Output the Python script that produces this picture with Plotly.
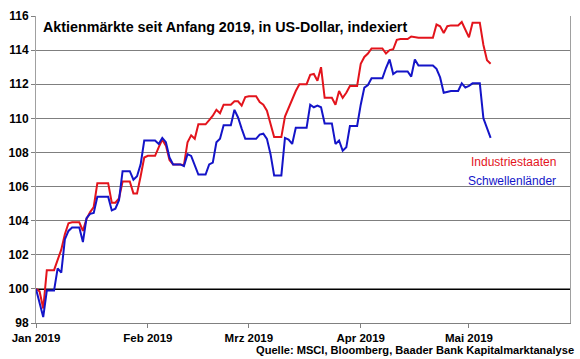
import pandas as pd
import plotly.graph_objects as go

# Daily (calendar) index values, base 100 at 1 Jan 2019
start_date = "2019-01-01"

ind_jan = [100.0, 99.85, 98.85, 101.1, 101.1, 101.1, 101.7, 102.3, 103.2, 103.85,
           103.9, 103.9, 103.9, 103.4, 104.1, 104.5, 104.8, 106.2, 106.2, 106.2,
           106.2, 105.05, 105.05, 105.3, 106.3, 106.3, 106.3, 105.6, 105.6, 106.6,
           107.7]
ind_feb = [107.8, 107.8, 107.8, 108.3, 108.75, 108.4, 107.55, 107.3, 107.3, 107.3,
           107.25, 108.6, 109.0, 108.8, 109.65, 109.65, 109.65, 109.9, 110.15, 110.5,
           110.3, 110.8, 110.8, 110.8, 111.0, 111.0, 110.75, 111.25]
ind_mar = [111.3, 111.3, 111.3, 110.95, 110.8, 110.45, 109.7, 108.9, 108.9, 108.9,
           110.1, 110.6, 111.2, 111.6, 112.0, 112.0, 112.0, 112.55, 112.6, 112.2,
           113.0, 111.2, 111.2, 111.2, 110.8, 111.6, 111.2, 111.5, 111.9, 111.9,
           111.9]
ind_apr = [113.2, 113.6, 113.8, 114.1, 114.1, 114.1, 114.1, 113.8, 114.0, 114.05,
           114.6, 114.65, 114.65, 114.65, 114.8, 114.75, 114.73, 114.73, 114.73, 114.73,
           114.73, 115.5, 115.4, 115.0, 115.4, 115.45, 115.45, 115.45, 115.65, 115.2]
ind_may = [114.75, 115.6, 115.6, 115.6, 114.3, 113.4, 113.2]

em_jan = [100.0, 99.15, 98.35, 99.9, 99.9, 99.9, 101.2, 100.95, 102.9, 103.4,
          103.6, 103.6, 103.6, 102.75, 104.15, 104.4, 104.45, 105.4, 105.4, 105.4,
          105.4, 104.6, 104.7, 105.2, 106.9, 106.9, 106.9, 106.4, 106.6, 107.3,
          108.7]
em_feb = [108.7, 108.7, 108.7, 108.5, 108.85, 108.6, 107.7, 107.3, 107.3, 107.3,
          107.2, 107.9, 107.8, 107.2, 106.7, 106.7, 106.7, 107.3, 107.4, 108.6,
          108.8, 109.6, 109.6, 109.6, 110.5, 110.05, 109.4, 108.8]
em_mar = [108.8, 108.8, 108.8, 109.05, 109.1, 108.8, 107.9, 106.65, 106.65, 106.65,
          108.85, 108.75, 108.5, 109.45, 109.45, 109.45, 109.45, 110.8, 110.65, 110.75,
          110.65, 109.7, 109.7, 109.7, 108.5, 108.7, 108.1, 108.3, 109.55, 109.55,
          109.55]
em_apr = [110.8, 111.8, 111.95, 112.35, 112.35, 112.35, 112.35, 112.95, 113.45, 112.6,
          112.75, 112.75, 112.75, 112.75, 112.45, 113.45, 113.1, 113.1, 113.1, 113.1,
          113.1, 112.9, 112.4, 111.5, 111.55, 111.6, 111.6, 111.6, 112.05, 111.8]
em_may = [111.9, 112.05, 112.05, 112.05, 110.0, 109.4, 108.85]

industriestaaten = ind_jan + ind_feb + ind_mar + ind_apr + ind_may
schwellenlaender = em_jan + em_feb + em_mar + em_apr + em_may
dates = pd.date_range(start_date, periods=len(industriestaaten), freq="D")

tick_dates = ["2019-01-01", "2019-02-01", "2019-03-01", "2019-04-01", "2019-05-01"]
tick_labels = ["Jan 2019", "Feb 2019", "Mrz 2019", "Apr 2019", "Mai 2019"]

title_text = "Aktienmärkte seit Anfang 2019, in US-Dollar, indexiert"
source_text = "Quelle: MSCI, Bloomberg, Baader Bank Kapitalmarktanalyse"
name_ind = "Industriestaaten"
name_em = "Schwellenländer"
base_level = 100

RED = "#e3141c"
BLUE = "#1414c8"
FONT = "Liberation Sans"

fig = go.Figure()
fig.add_shape(type="line", xref="paper", x0=0, x1=1, yref="y", y0=base_level, y1=base_level,
              line=dict(color="black", width=2), layer="below")
fig.add_trace(go.Scatter(x=dates, y=industriestaaten, mode="lines", name=name_ind,
                         line=dict(color=RED, width=2)))
fig.add_trace(go.Scatter(x=dates, y=schwellenlaender, mode="lines", name=name_em,
                         line=dict(color=BLUE, width=2)))

fig.update_layout(
    width=580, height=359,
    margin=dict(l=33, r=9, t=14, b=36),
    plot_bgcolor="white", paper_bgcolor="white",
    showlegend=False,
    font=dict(family=FONT, color="black"),
)
fig.update_xaxes(
    type="date", range=["2019-01-01", "2019-05-29"],
    tickvals=tick_dates, ticktext=tick_labels,
    ticks="outside", ticklen=4, tickcolor="#808080",
    showgrid=False, showline=True, linecolor="#808080", linewidth=1,
    tickfont=dict(family=FONT, size=11.5, color="black", weight="bold"),
)
fig.update_yaxes(
    range=[98, 116], dtick=2,
    showgrid=True, gridcolor="#7f7f7f", gridwidth=1,
    ticks="outside", ticklen=4, tickcolor="#808080",
    showline=True, linecolor="#a0a0a0", linewidth=1, mirror=True,
    zeroline=False,
    tickfont=dict(family=FONT, size=12, color="black", weight="bold"),
)

fig.add_annotation(text=title_text, xref="paper", yref="paper", x=0.009, y=0.964,
                   xanchor="left", yanchor="middle", showarrow=False,
                   font=dict(family=FONT, size=14.3, color="black", weight="bold"))
fig.add_annotation(text=name_ind, xref="paper", yref="paper", x=0.978, y=0.524,
                   xanchor="right", yanchor="middle", showarrow=False,
                   font=dict(family=FONT, size=12, color=RED))
fig.add_annotation(text=name_em, xref="paper", yref="paper", x=0.978, y=0.463,
                   xanchor="right", yanchor="middle", showarrow=False,
                   font=dict(family=FONT, size=12, color=BLUE))
fig.add_annotation(text=source_text, xref="paper", yref="paper", x=1.011, y=-0.087,
                   xanchor="right", yanchor="middle", showarrow=False,
                   font=dict(family=FONT, size=11.1, color="black", weight="bold"))

fig.write_html("out.html", config={"displayModeBar": False},
               post_script="document.body.style.margin='0';document.body.style.padding='0';")
